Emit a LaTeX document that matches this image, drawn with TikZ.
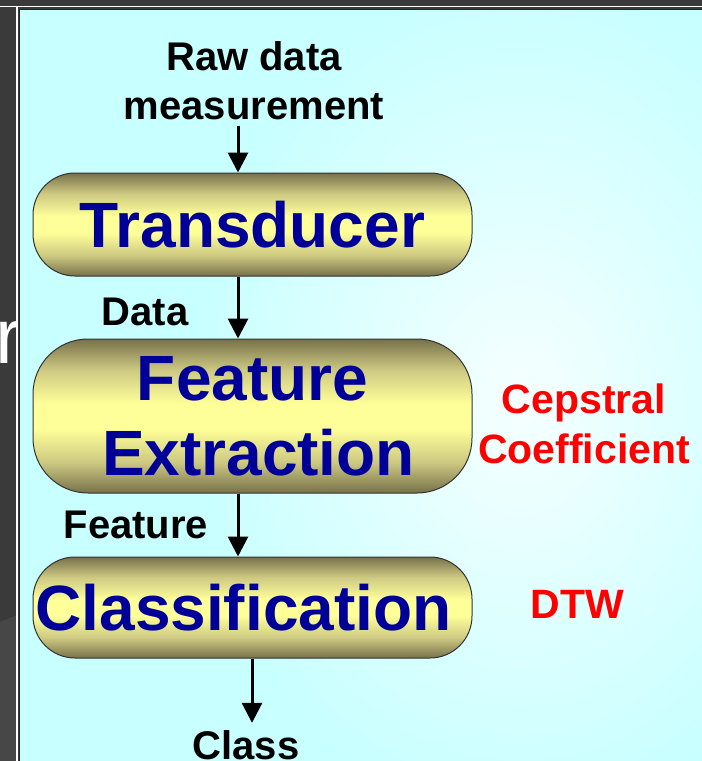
\documentclass[tikz,border=0pt]{standalone}
\usepackage{fontspec}
\setmainfont{Liberation Sans}
\usetikzlibrary{arrows.meta,calc}
\definecolor{bgdark}{HTML}{3A3A3A}
\definecolor{bglight}{HTML}{474747}
\definecolor{panelcyan}{HTML}{C8FFFF}
\definecolor{glow}{HTML}{F6FFFF}
\definecolor{bxdark}{HTML}{77714A}
\definecolor{bxmid}{HTML}{CDC982}
\definecolor{bxlight}{HTML}{FFFF99}
\definecolor{navy}{HTML}{000099}
\pgfdeclareverticalshading{boxshade}{100bp}{color(0bp)=(bxdark); color(25bp)=(bxdark); color(35bp)=(bxmid); color(46bp)=(bxlight); color(54bp)=(bxlight); color(65bp)=(bxmid); color(75bp)=(bxdark); color(100bp)=(bxdark)}
\tikzset{
  stagebox/.style={draw=black!80, line width=1pt, shading=boxshade, minimum width=439pt,
    inner sep=0pt, text=navy, font=\bfseries\fontsize{64}{75}\selectfont, align=center},
  lbl/.style={font=\bfseries\fontsize{40}{49}\selectfont, inner sep=0pt, align=center, text=black},
  redlbl/.style={font=\bfseries\fontsize{41}{50}\selectfont, inner sep=0pt, align=center, text=red},
  arr/.style={line width=3pt, -{Triangle[width=20pt,length=20pt]}}
}
\begin{document}
\begin{tikzpicture}[x=1pt,y=-1pt]
\useasboundingbox (0,0) rectangle (702,761);
\clip (0,0) rectangle (702,761);
% dark surroundings
\fill[bgdark] (0,0) rectangle (702,761);
\fill[bglight] (0,622) -- (17,615) -- (17,761) -- (0,761) -- cycle;
\draw[white, line width=1.5pt] (0,6.5) -- (702,6.5);
\draw[white, line width=1.5pt] (17,6.5) -- (17,761);
\begin{scope}
  \clip (-2,0) rectangle (16.2,761);
  \node[anchor=base west, inner sep=0pt, text=white, font=\fontsize{78}{78}\selectfont] (rr) at (-5,363) {r};
\end{scope}
% panel
\fill[panelcyan] (19.5,9.5) rectangle (703,762);
\begin{scope}
  \clip (19.5,9.5) rectangle (703,762);
  \shade[inner color=glow, outer color=panelcyan] (520,400) ellipse [x radius=330pt, y radius=420pt];
\end{scope}
\draw[black!85, line width=1pt] (19.5,762) -- (19.5,9.5) -- (703,9.5);
% stages
\node[stagebox, minimum height=103pt, rounded corners=42pt] (td) at (252.5,224.5) {Transducer};
\node[stagebox, minimum height=154pt, rounded corners=55pt] (fe) at (252.5,416) {Feature\\\hspace*{12pt}Extraction};
\node[stagebox, minimum height=101pt, rounded corners=42pt] (cl) at (252.5,607.5) {Classification\hspace*{18pt}};
% labels
\node[lbl, anchor=base] (raw) at (254,119) {Raw data\\measurement};
\node[lbl, anchor=base] (data) at (145,325) {Data};
\node[lbl, anchor=base] (featl) at (136,538) {Feature};
\node[lbl, anchor=base] (cls) at (246,759) {Class};
\node[redlbl, anchor=base] (cep) at (584,463) {Cepstral\\Coefficient};
\node[redlbl, anchor=base] (dtw) at (577.5,618) {DTW};
% connectors
\coordinate (ax) at (238,0);
\coordinate (bx) at (252,0);
\draw[arr, shorten <=6pt] (raw.south -| ax) -- (td.north -| ax);
\draw[arr] (td.south -| ax) -- (fe.north -| ax);
\draw[arr] (fe.south -| ax) -- (cl.north -| ax);
\draw[arr, shorten >=7pt] (cl.south -| bx) -- (cls.north -| bx);
\end{tikzpicture}
\end{document}
